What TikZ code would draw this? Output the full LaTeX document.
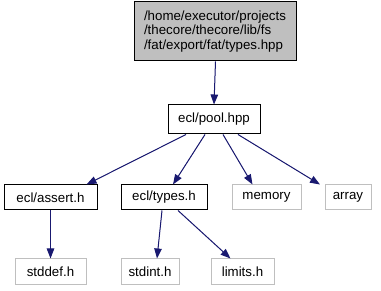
\documentclass[tikz,border=0pt]{standalone}
\usepackage{fontspec}
\setmainfont{Liberation Sans}
\usetikzlibrary{arrows.meta}
\definecolor{edgeblue}{HTML}{191970}
\definecolor{lightgray}{HTML}{BFBFBF}
\begin{document}
\begin{tikzpicture}[
    x=1pt, y=-1pt,
    every node/.style={font=\fontsize{13.3}{14.5}\selectfont, inner sep=0pt},
    file/.style={
        rectangle,
        draw=black,
        line width=1pt,
        minimum height=25pt
    },
    missing/.style={
        rectangle,
        draw=lightgray,
        line width=1pt,
        minimum height=25pt
    },
    dep/.style={
        -{Triangle[length=10pt,width=7.5pt]},
        draw=edgeblue,
        fill=edgeblue,
        line width=1pt
    }
]
\useasboundingbox (0,0) rectangle (381,291);

% File di partenza
\node[file, fill=lightgray, minimum width=162pt, minimum height=59pt,
      align=left] (top) at (215,31.5)
    {/home/executor/projects\\/thecore/thecore/lib/fs\\/fat/export/fat/types.hpp};

% Header inclusi
\node[file, minimum width=92pt, minimum height=29pt] (pool) at (214,119.5) {ecl/pool.hpp};
\node[file, minimum width=93pt] (assert) at (50.5,197.5) {ecl/assert.h};
\node[file, minimum width=86pt] (types) at (164,197.5) {ecl/types.h};
\node[missing, minimum width=69pt] (memory) at (266.5,197.5) {memory};
\node[missing, minimum width=46pt] (array) at (348,197.5) {array};

% Header di sistema
\node[missing, minimum width=71pt, minimum height=26pt] (stddef) at (50.5,272) {stddef.h};
\node[missing, minimum width=58pt, minimum height=26pt] (stdint) at (150,272) {stdint.h};
\node[missing, minimum width=63pt, minimum height=26pt] (limits) at (242.5,272) {limits.h};

% Dipendenze
\draw[dep] ([xshift=0.5pt]top.south) -- (pool.north);
\draw[dep] ([xshift=-28pt]pool.south) -- ([xshift=36pt]assert.north);
\draw[dep] ([xshift=-9pt]pool.south) -- ([xshift=9pt]types.north);
\draw[dep] ([xshift=9pt]pool.south) -- ([xshift=-14pt]memory.north);
\draw[dep] ([xshift=24pt]pool.south) -- ([xshift=-28pt]array.north);
\draw[dep] (assert.south) -- (stddef.north);
\draw[dep] ([xshift=-2pt]types.south) -- ([xshift=7pt]stdint.north);
\draw[dep] ([xshift=14pt]types.south) -- ([xshift=-12pt]limits.north);

\end{tikzpicture}
\end{document}
